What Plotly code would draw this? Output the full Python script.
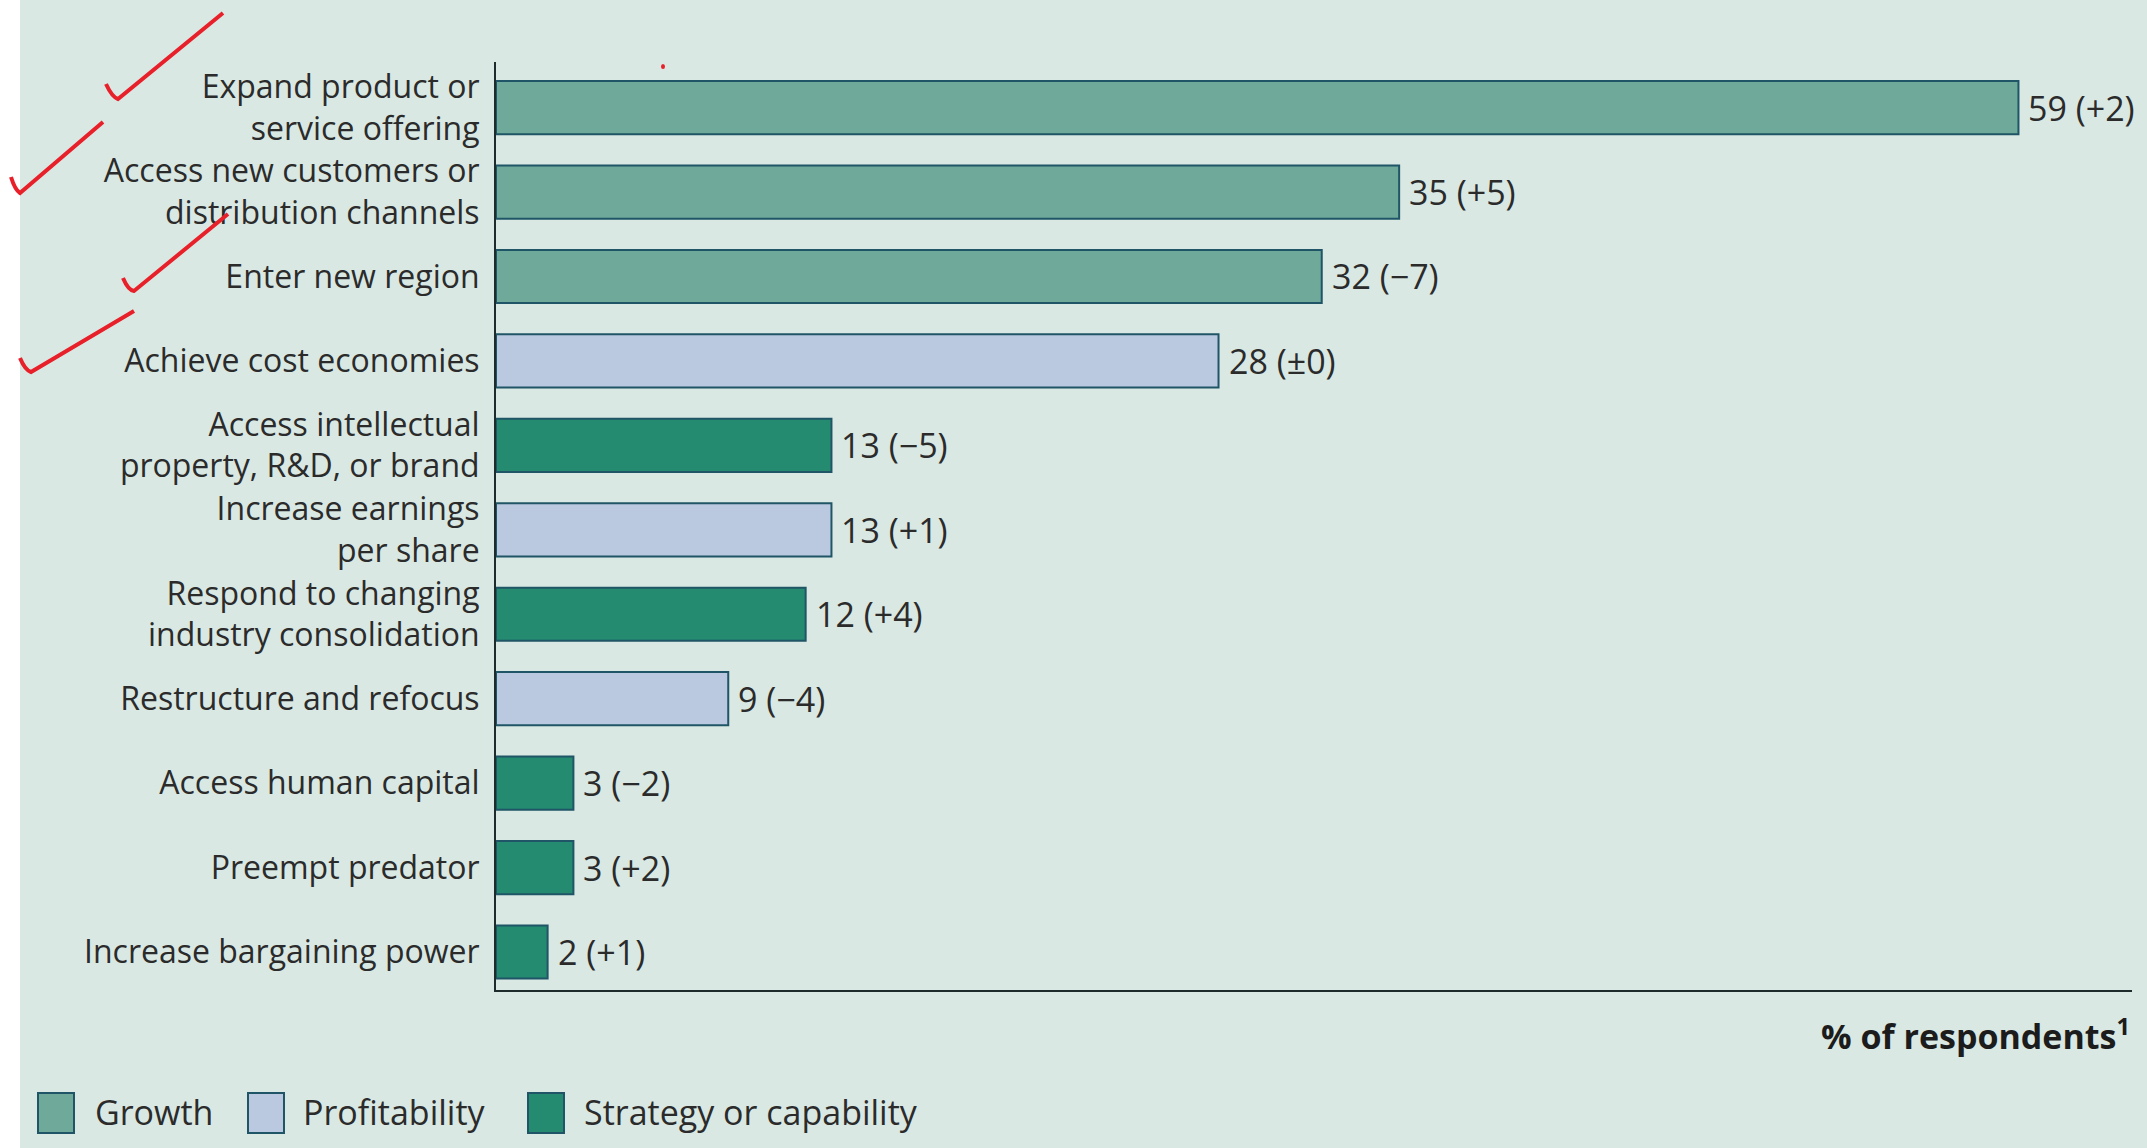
import plotly.graph_objects as go

# Reasons for acquisitions, % of respondents (change vs. prior survey in brackets)
categories = [
    "Expand product or<br>service offering",
    "Access new customers or<br>distribution channels",
    "Enter new region",
    "Achieve cost economies",
    "Access intellectual<br>property, R&D, or brand",
    "Increase earnings<br>per share",
    "Respond to changing<br>industry consolidation",
    "Restructure and refocus",
    "Access human capital",
    "Preempt predator",
    "Increase bargaining power",
]
values = [59, 35, 32, 28, 13, 13, 12, 9, 3, 3, 2]
changes = ["+2", "+5", "−7", "±0", "−5", "+1", "+4", "−4", "−2", "+2", "+1"]
groups = ["Growth", "Growth", "Growth", "Profitability", "Strategy or capability",
          "Profitability", "Strategy or capability", "Profitability",
          "Strategy or capability", "Strategy or capability", "Strategy or capability"]

group_names = ["Growth", "Profitability", "Strategy or capability"]
group_colors = {"Growth": "#6fa99a", "Profitability": "#bac9e0",
                "Strategy or capability": "#248a70"}

BG = "#d9e8e3"
OUTLINE = "#1f5566"
TEXT = "#2b2b2b"
FONT = "Open Sans"
FS = 34        # value labels, legend
FS_CAT = 32    # category labels

W, H = 2147, 1148
ML, MR, MT, MB = 496, 15, 62, 158
PW, PH = W - ML - MR, H - MT - MB


def px(x):
    return (x - ML) / PW


def py(y):
    return 1 - (y - MT) / PH


fig = go.Figure()

fig.add_trace(go.Bar(
    y=categories,
    x=values,
    orientation="h",
    marker=dict(color=[group_colors[g] for g in groups],
                line=dict(color=OUTLINE, width=2)),
    width=0.63,
    showlegend=False,
    hoverinfo="skip",
))

annotations = []

# value labels with change in brackets
for cat, v, ch in zip(categories, values, changes):
    annotations.append(dict(
        x=v, y=cat, xref="x", yref="y", text=f"{v} ({ch})",
        xanchor="left", yanchor="middle", xshift=8, showarrow=False,
        font=dict(family=FONT, size=FS, color=TEXT),
    ))

# axis caption
annotations.append(dict(
    x=1, y=py(1034), xref="paper", yref="paper",
    text="<b>% of respondents<sup>1</sup></b>", xanchor="right", yanchor="middle",
    showarrow=False, font=dict(family=FONT, size=34, color="#1c1c1c"),
))

shapes = []
# white strip at the left edge
shapes.append(dict(type="rect", xref="paper", yref="paper",
                   x0=px(0), x1=px(20), y0=py(H), y1=py(0),
                   fillcolor="white", line=dict(width=0), layer="below"))

# legend boxes and names
legend_box_x = [38, 248, 528]
legend_text_x = [93, 301, 582]
for name, bx, tx in zip(group_names, legend_box_x, legend_text_x):
    shapes.append(dict(type="rect", xref="paper", yref="paper",
                       x0=px(bx), x1=px(bx + 36), y0=py(1133), y1=py(1093),
                       fillcolor=group_colors[name],
                       line=dict(color=OUTLINE, width=2)))
    annotations.append(dict(
        x=px(tx), y=py(1112), xref="paper", yref="paper", text=name,
        xanchor="left", yanchor="middle", showarrow=False,
        font=dict(family=FONT, size=FS, color=TEXT),
    ))

# red hand-drawn tick marks
ticks = [
    [(106, 84), (112, 97), (118, 99), (223, 13)],
    [(11, 177), (15, 190), (20, 193), (103, 122)],
    [(123, 278), (128, 290), (134, 291), (228, 214)],
    [(20, 358), (25, 370), (31, 372), (134, 311)],
]
for pts in ticks:
    (x0, y0), (x1, y1), (x2, y2), (x3, y3) = pts
    path = (f"M {px(x0)},{py(y0)} Q {px(x1)},{py(y1)} {px(x2)},{py(y2)} "
            f"L {px(x3)},{py(y3)}")
    shapes.append(dict(type="path", xref="paper", yref="paper", path=path,
                       line=dict(color="#e8202a", width=4)))
shapes.append(dict(type="circle", xref="paper", yref="paper",
                   x0=px(661), x1=px(665), y0=py(69), y1=py(64),
                   fillcolor="#e8202a", line=dict(width=0)))

fig.update_layout(
    width=W, height=H,
    margin=dict(l=ML, r=MR, t=MT, b=MB),
    paper_bgcolor=BG, plot_bgcolor=BG,
    font=dict(family=FONT, size=FS, color=TEXT),
    xaxis=dict(range=[0, 63.4], showgrid=False, zeroline=False,
               showticklabels=False, ticks="", showline=True,
               linecolor="#1e2b2b", linewidth=2),
    yaxis=dict(categoryorder="array", categoryarray=categories,
               range=[10.45, -0.54], showgrid=False, zeroline=False,
               ticks="", showline=True, linecolor="#1e2b2b", linewidth=2,
               ticklabelstandoff=8,
               tickfont=dict(family=FONT, size=FS_CAT, color=TEXT)),
    annotations=annotations,
    shapes=shapes,
    showlegend=False,
)

fig.write_html("out.html")
